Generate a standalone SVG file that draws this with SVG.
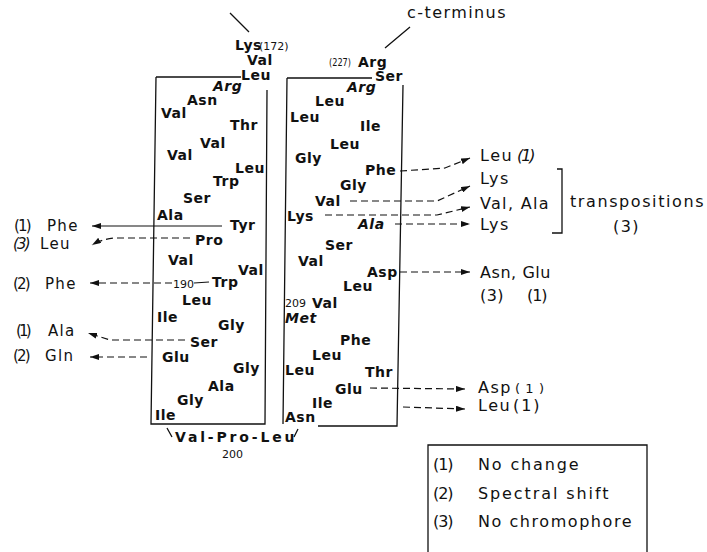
<svg xmlns="http://www.w3.org/2000/svg" width="707" height="552" viewBox="0 0 707 552">
<style>
text{fill:#111;font-family:"DejaVu Sans","Liberation Sans",sans-serif}
.aa{font-size:14px;font-weight:bold;letter-spacing:0.5px}
.it{font-style:italic}
.lab{font-size:16px;letter-spacing:1.5px}
.labl{font-size:15px;letter-spacing:1.3px}
.num{font-size:11px}
.sm{font-size:13px;letter-spacing:1px}
.ln{fill:none;stroke:#111;stroke-width:1.3}
.dash{stroke-dasharray:7 4}
.con{fill:none;stroke:#111;stroke-width:1.2}
</style>
<defs>
<marker id="ah" viewBox="0 0 9 6" refX="9" refY="3" markerWidth="9" markerHeight="6" markerUnits="userSpaceOnUse" orient="auto">
<path d="M0,0 L9,3 L0,6 z" fill="#111"/>
</marker>
</defs>
<rect width="707" height="552" fill="#fff"/>

<g id="frames">
<path class="ln" d="M156,77 L241,77 M267,90 L265,424 L151,424 L156,77"/>
<path class="ln" d="M287,78 L372,78 M403,85 L397,426 L318,426 M283,424 L287,78"/>
<path class="ln" d="M230,13 L249,32 M385,48 L410,27 M167,428 L172,437 M298,429 L294,437"/>
</g>

<g id="helix-left">
<text class="aa" x="235" y="50">Lys</text><text class="num" x="259" y="50">(172)</text>
<text class="aa" x="247" y="65">Val</text>
<text class="aa" x="241" y="80">Leu</text>
<text class="aa it" x="213" y="91">Arg</text>
<text class="aa" x="187" y="105">Asn</text>
<text class="aa" x="161" y="118">Val</text>
<text class="aa" x="230" y="130">Thr</text>
<text class="aa" x="200" y="148">Val</text>
<text class="aa" x="167" y="160">Val</text>
<text class="aa" x="235" y="173">Leu</text>
<text class="aa" x="213" y="186">Trp</text>
<text class="aa" x="183" y="203">Ser</text>
<text class="aa" x="157" y="220">Ala</text>
<text class="aa" x="230" y="230">Tyr</text>
<text class="aa" x="195" y="245">Pro</text>
<text class="aa" x="168" y="265">Val</text>
<text class="aa" x="238" y="275">Val</text>
<text class="num" x="173" y="288">190</text>
<text class="aa" x="212" y="287">Trp</text>
<text class="aa" x="182" y="305">Leu</text>
<text class="aa" x="157" y="322">Ile</text>
<text class="aa" x="218" y="330">Gly</text>
<text class="aa" x="190" y="347">Ser</text>
<text class="aa" x="162" y="362">Glu</text>
<text class="aa" x="233" y="373">Gly</text>
<text class="aa" x="208" y="391">Ala</text>
<text class="aa" x="177" y="405">Gly</text>
<text class="aa" x="155" y="420">Ile</text>
</g>

<g id="loop">
<text class="aa" x="175" y="442" textLength="120" lengthAdjust="spacing">Val-Pro-Leu</text>
<text class="num" x="222" y="458">200</text>
</g>

<g id="helix-right">
<text class="lab" x="407" y="18" textLength="100" lengthAdjust="spacing">c-terminus</text>
<text class="num" x="329" y="66" textLength="22" lengthAdjust="spacingAndGlyphs">(227)</text><text class="aa" x="358" y="67">Arg</text>
<text class="aa" x="375" y="81">Ser</text>
<text class="aa it" x="347" y="92">Arg</text>
<text class="aa" x="315" y="106">Leu</text>
<text class="aa" x="290" y="122">Leu</text>
<text class="aa" x="360" y="131">Ile</text>
<text class="aa" x="330" y="149">Leu</text>
<text class="aa" x="295" y="163">Gly</text>
<text class="aa" x="365" y="175">Phe</text>
<text class="aa" x="340" y="190">Gly</text>
<text class="aa" x="315" y="206">Val</text>
<text class="aa" x="287" y="221">Lys</text>
<text class="aa it" x="358" y="229">Ala</text>
<text class="aa" x="325" y="250">Ser</text>
<text class="aa" x="298" y="266">Val</text>
<text class="aa" x="367" y="277">Asp</text>
<text class="aa" x="343" y="291">Leu</text>
<text class="num" x="285" y="307">209</text><text class="aa" x="312" y="308">Val</text>
<text class="aa it" x="285" y="323">Met</text>
<text class="aa" x="340" y="345">Phe</text>
<text class="aa" x="312" y="360">Leu</text>
<text class="aa" x="285" y="375">Leu</text>
<text class="aa" x="365" y="377">Thr</text>
<text class="aa" x="335" y="394">Glu</text>
<text class="aa" x="312" y="408">Ile</text>
<text class="aa" x="285" y="422">Asn</text>
</g>

<g id="connectors">
<path class="con" marker-end="url(#ah)" d="M222,226 L92,226"/>
<path class="con dash" marker-end="url(#ah)" d="M190,238 L115,238 Q102,239 92,245"/>
<path class="con dash" marker-end="url(#ah)" d="M172,283 L90,283"/>
<path class="con" d="M194,283 L209,282"/>
<path class="con dash" marker-end="url(#ah)" d="M185,340 L110,340 L88,333"/>
<path class="con dash" marker-end="url(#ah)" d="M147,357 L90,357"/>
<path class="con dash" marker-end="url(#ah)" d="M400,171 L445,168 L470,158"/>
<path class="con dash" marker-end="url(#ah)" d="M350,201 L437,201 L470,186"/>
<path class="con dash" marker-end="url(#ah)" d="M325,215 L437,215 L470,207"/>
<path class="con dash" marker-end="url(#ah)" d="M395,224 L470,224"/>
<path class="con dash" marker-end="url(#ah)" d="M400,272 L470,272"/>
<path class="con dash" marker-end="url(#ah)" d="M370,388 L465,389"/>
<path class="con dash" marker-end="url(#ah)" d="M403,407 L465,409"/>
</g>

<g id="mut-left">
<text class="labl" x="14" y="231" textLength="19">(1)</text><text class="labl" x="47" y="231">Phe</text>
<text class="labl it" x="13" y="249" textLength="19">(3)</text><text class="labl" x="40" y="249">Leu</text>
<text class="labl" x="13" y="289" textLength="19">(2)</text><text class="labl" x="45" y="289">Phe</text>
<text class="labl" x="16" y="336" textLength="17">(1)</text><text class="labl" x="48" y="336">Ala</text>
<text class="labl" x="13" y="361" textLength="19">(2)</text><text class="labl" x="45" y="361">Gln</text>
</g>

<g id="mut-right">
<text class="lab" x="480" y="161">Leu</text><text class="lab it" x="517" y="161" textLength="20">(1)</text>
<text class="lab" x="480" y="184">Lys</text>
<text class="lab" x="480" y="209" textLength="70">Val, Ala</text>
<text class="lab" x="480" y="230">Lys</text>
<text class="lab" x="480" y="278" textLength="72">Asn, Glu</text>
<text class="lab" x="480" y="301" textLength="25">(3)</text><text class="lab" x="527" y="301" textLength="22">(1)</text>
<text class="lab" x="478" y="393">Asp</text><text class="sm" x="515" y="393" textLength="30">(1)</text>
<text class="lab" x="478" y="411">Leu</text><text class="lab" x="513" y="411" textLength="28">(1)</text>
</g>

<g id="transpositions">
<path class="ln" d="M557,169 L562,169 L562,233 L552,233"/>
<text class="lab" x="570" y="207" textLength="135" lengthAdjust="spacing">transpositions</text>
<text class="lab" x="613" y="232" textLength="27">(3)</text>
</g>

<g id="legend">
<path class="ln" d="M428,552 L428,445 L647,445 L647,552"/>
<text class="lab" x="433" y="470" textLength="22">(1)</text><text class="lab" x="478" y="470" textLength="102" lengthAdjust="spacing">No change</text>
<text class="lab" x="433" y="499" textLength="22">(2)</text><text class="lab" x="478" y="499" textLength="132" lengthAdjust="spacing">Spectral shift</text>
<text class="lab" x="433" y="527" textLength="22">(3)</text><text class="lab" x="478" y="527" textLength="155" lengthAdjust="spacing">No chromophore</text>
</g>
</svg>
